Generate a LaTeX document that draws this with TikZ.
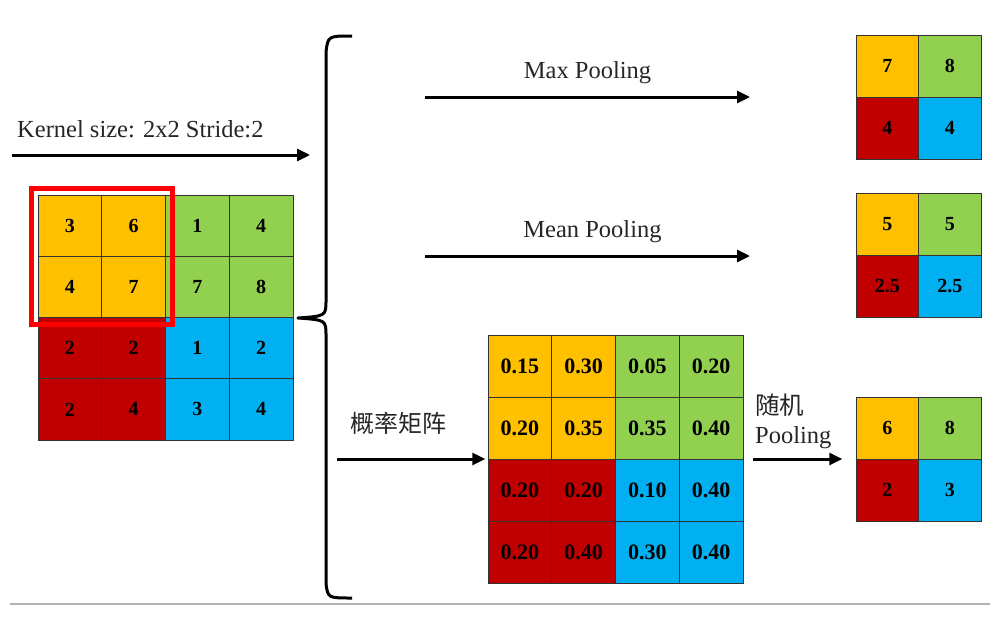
\documentclass[tikz,border=0pt]{standalone}
\usepackage{fontspec}
\setmainfont{Liberation Serif}
\newfontfamily\cjk{Noto Sans CJK SC}
\usetikzlibrary{arrows.meta,fit,calc}
\definecolor{q0}{HTML}{FFC000}
\definecolor{q1}{HTML}{92D050}
\definecolor{q2}{HTML}{C00000}
\definecolor{q3}{HTML}{00B0F0}
\tikzset{
  cell/.style={
    draw=black!80,
    line width=1pt,
    inner sep=0pt,
    font=\bfseries\fontsize{20}{20}\selectfont
  },
  lbl/.style={
    text=black!85,
    inner sep=2pt,
    font=\fontsize{24.5}{29}\selectfont
  },
  arr/.style={
    line width=3pt,
    -{Triangle[length=13pt,width=12pt]}
  }
}
\begin{document}
\begin{tikzpicture}[x=1pt,y=-1pt]
    \useasboundingbox (0,0) rectangle (1000,616);

    % 入力 4x4
    \foreach \v [count=\k from 0] in {3,6,1,4,4,7,7,8,2,2,1,2,2,4,3,4}{
        \pgfmathtruncatemacro\c{mod(\k,4)}
        \pgfmathtruncatemacro\r{floor(\k/4)}
        \pgfmathtruncatemacro\q{(\c>1)+2*(\r>1)}
        \node[cell,fill=q\q,minimum width=63.75pt,minimum height=61.25pt]
            (in-\r-\c) at ({38+63.75*(\c+0.5)},{195+61.25*(\r+0.5)}) {\v};
    }
    \node[fit=(in-0-0)(in-1-1),draw=red,line width=5pt,inner sep=6.5pt] (win) {};

    % Kernel
    \node[lbl,anchor=base west] (kern) at (15,137) {Kernel size: 2x2 Stride:2};
    \coordinate (ka) at (12,155);
    \coordinate (kb) at (310,155);
    \draw[arr] (ka) -- (kb);

    % 括弧
    \coordinate (brtip) at (298,318);
    \draw[line width=3pt,line join=round]
        (352,36) .. controls (328,36) .. (326,52) -- (326,300)
        .. controls (326,316) .. (brtip)
        .. controls (326,320) .. (326,336) -- (326,584)
        .. controls (328,598) .. (352,598);

    % Max / Mean
    \coordinate (mxa) at (425,97);
    \coordinate (mxb) at (750,97);
    \draw[arr] (mxa) -- node[lbl,above=10pt] (mxl) {Max Pooling} (mxb);
    \coordinate (mna) at (425,256);
    \coordinate (mnb) at (750,256);
    \draw[arr] (mna) -- node[lbl,above=10pt,xshift=5pt] (mnl) {Mean Pooling} (mnb);

    % 出力 2x2
    \foreach \g/\t/\vals in {mx/35/{7,8,4,4},mn/193/{5,5,2.5,2.5},st/397/{6,8,2,3}}{
        \foreach \v [count=\k from 0] in \vals{
            \pgfmathtruncatemacro\c{mod(\k,2)}
            \pgfmathtruncatemacro\r{floor(\k/2)}
            \pgfmathtruncatemacro\q{\c+2*\r}
            \node[cell,fill=q\q,minimum width=62.5pt,minimum height=62pt]
                (\g-\r-\c) at ({856+62.5*(\c+0.5)},{\t+62*(\r+0.5)}) {\v};
        }
        \node[fit=(\g-0-0)(\g-1-1),inner sep=0pt] (\g grid) {};
    }

    % 確率行列
    \foreach \v [count=\k from 0] in
        {0.15,0.30,0.05,0.20,0.20,0.35,0.35,0.40,0.20,0.20,0.10,0.40,0.20,0.40,0.30,0.40}{
        \pgfmathtruncatemacro\c{mod(\k,4)}
        \pgfmathtruncatemacro\r{floor(\k/4)}
        \pgfmathtruncatemacro\q{(\c>1)+2*(\r>1)}
        \node[cell,fill=q\q,minimum width=63.75pt,minimum height=62pt,
              font=\bfseries\fontsize{22}{22}\selectfont]
            (p-\r-\c) at ({488+63.75*(\c+0.5)},{335+62*(\r+0.5)}) {\v};
    }
    \node[fit=(p-0-0)(p-3-3),inner sep=0pt] (pgrid) {};

    \node[lbl,font=\cjk\fontsize{24}{29}\selectfont] (gl) at (398,423) {概率矩阵};
    \coordinate (pa) at (337,459);
    \draw[arr,shorten >=2pt] (pa) -- (pgrid.west);

    % 随机 Pooling
    \node[lbl,align=left,anchor=west] (stl) at (753,421) {{\cjk 随机}\\Pooling};
    \draw[arr,shorten <=9pt,shorten >=13pt] (pgrid.east) -- (stgrid.west);

    % 下線
    \draw[gray!60,line width=1.5pt] (10,604) -- (990,604);
\end{tikzpicture}
\end{document}
